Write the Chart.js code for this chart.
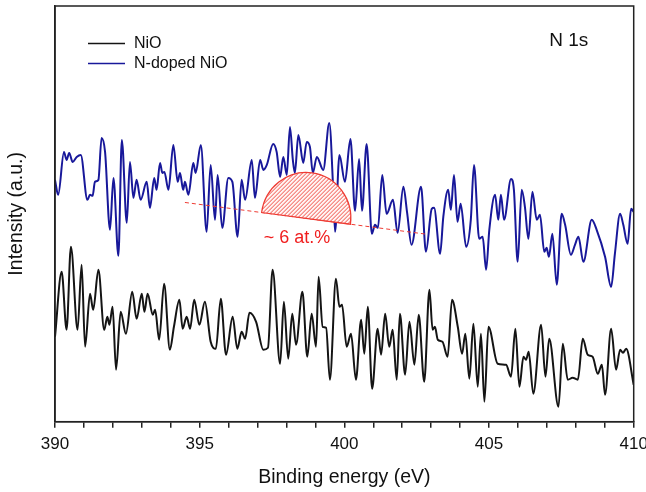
<!DOCTYPE html>
<html>
<head>
<meta charset="utf-8">
<script src="https://cdn.jsdelivr.net/npm/chart.js@4.4.1/dist/chart.umd.min.js"></script>
<style>
html,body{margin:0;padding:0;background:#fff;}
#wrap{width:646px;height:492px;}
</style>
</head>
<body>
<div id="wrap"><canvas id="c" width="646" height="492"></canvas></div>
<script>
// ---- Data (binding energy in eV, intensity in arbitrary units) ----
const xTicks = [390, 395, 400, 405, 410];

const dopedE = [390.00,390.11,390.31,390.40,390.49,390.61,390.75,390.89,391.12,391.21,391.30,391.38,391.50,391.61,391.73,391.90,392.02,392.19,392.31,392.48,392.59,392.71,392.82,392.96,393.17,393.28,393.43,393.51,393.63,393.71,393.78,393.92,394.09,394.24,394.32,394.43,394.49,394.61,394.78,394.86,395.04,395.24,395.38,395.53,395.62,395.78,395.99,396.13,396.31,396.45,396.57,396.80,396.91,397.09,397.20,397.32,397.54,397.66,397.78,397.89,398.01,398.12,398.22,398.29,398.41,398.58,398.70,398.81,398.91,399.05,399.27,399.48,399.62,399.68,399.83,400.02,400.21,400.37,400.51,400.61,400.77,400.95,401.06,401.16,401.31,401.46,401.68,401.84,402.04,402.17,402.32,402.65,402.82,403.02,403.10,403.31,403.42,403.59,403.68,403.79,403.91,404.02,404.21,404.37,404.48,404.66,404.78,404.90,405.01,405.21,405.32,405.41,405.52,405.76,405.86,405.99,406.13,406.24,406.36,406.50,406.65,406.76,406.91,406.99,407.07,407.19,407.34,407.51,407.63,407.83,407.97,408.09,408.26,408.55,408.72,409.01,409.22,409.35,409.53,409.64,409.79,409.91,410.00];
const dopedI = [242,227,270,262,269,260,265,267,222,227,226,240,242,284,270,192,244,166,282,199,260,224,242,222,240,214,244,232,259,249,250,232,277,240,249,232,240,227,259,249,277,190,257,202,247,194,244,240,185,242,222,262,224,262,252,257,278,270,245,265,247,295,262,249,287,259,280,275,249,265,252,299,229,190,267,240,283,211,263,211,278,188,197,194,247,208,222,189,235,209,177,235,170,213,214,168,205,232,212,247,200,218,175,202,257,183,185,152,192,227,202,227,202,243,232,160,232,215,183,230,202,207,170,174,165,188,137,208,197,167,177,185,160,202,192,165,135,168,208,197,178,213,210];

const nioE = [390.00,390.23,390.40,390.55,390.78,390.92,391.04,391.21,391.32,391.50,391.70,391.81,391.88,391.99,392.11,392.27,392.45,392.67,392.82,393.00,393.09,393.20,393.38,393.46,393.60,393.77,393.97,394.11,394.30,394.41,394.55,394.67,394.81,394.99,395.18,395.38,395.56,395.73,395.91,396.14,396.30,396.45,396.57,396.72,396.95,397.20,397.36,397.52,397.78,397.91,398.06,398.20,398.33,398.55,398.72,398.87,399.02,399.11,399.25,399.37,399.50,399.71,399.83,399.92,400.08,400.23,400.40,400.58,400.69,400.81,400.96,401.15,401.27,401.41,401.55,401.67,401.81,401.92,402.10,402.25,402.42,402.57,402.76,402.94,403.05,403.13,403.23,403.39,403.57,403.72,403.92,404.07,404.18,404.32,404.46,404.61,404.72,404.84,404.98,405.30,405.59,405.76,405.91,406.05,406.19,406.28,406.37,406.53,406.80,406.95,407.08,407.40,407.55,407.72,407.89,408.07,408.24,408.41,408.58,408.76,408.90,409.01,409.22,409.39,409.53,409.63,409.74,410.00];
const nioI = [85,150,92,175,92,157,75,128,112,152,92,105,97,115,52,110,88,130,103,128,110,128,107,112,82,138,72,95,122,93,105,93,122,97,120,80,73,123,67,105,73,90,83,109,100,72,74,152,58,120,63,108,77,130,65,108,75,145,95,94,42,143,115,117,75,88,42,102,68,115,33,93,67,108,75,92,42,108,47,100,57,107,40,132,92,95,82,80,65,122,95,68,88,43,98,35,88,20,95,58,57,45,93,35,65,62,70,28,97,45,83,15,78,42,44,42,83,67,65,48,57,27,93,52,72,69,73,37];

const seriesLabels = ['NiO', 'N-doped NiO'];

// Annotation (estimated N-dopant area): baseline and dome, in data units
const baseE = [394.49, 402.82];
const baseI = [219.4, 187.7];
const domeE = [397.14, 400.21];
const domeH = [46];
const annotText = ['~ 6 at.%'];
const annotPos = [398.36, 183.5];
const peakLabel = ['N 1s'];
const peakLabelPos = [407.08, 381.7];

// ---- Chart ----
const FONT = '"Liberation Sans", Arial, sans-serif';
const BLUE = '#18189a';
const BLACK = '#141414';
const RED = '#ee3b33';

const toXY = (E, I) => E.map((e, i) => ({x: e, y: I[i]}));

const deco = {
  id: 'deco',
  afterDatasetsDraw(chart) {
    const {ctx, scales: {x, y}} = chart;
    ctx.save();
    // dashed baseline
    ctx.strokeStyle = RED; ctx.lineWidth = 1; ctx.setLineDash([4, 3]);
    ctx.beginPath();
    ctx.moveTo(x.getPixelForValue(baseE[0]), y.getPixelForValue(baseI[0]));
    ctx.lineTo(x.getPixelForValue(baseE[1]), y.getPixelForValue(baseI[1]));
    ctx.stroke();
    ctx.setLineDash([]);
    // dome
    const baseAt = e => baseI[0] + (baseI[1] - baseI[0]) * (e - baseE[0]) / (baseE[1] - baseE[0]);
    const x1 = x.getPixelForValue(domeE[0]), y1 = y.getPixelForValue(baseAt(domeE[0]));
    const x2 = x.getPixelForValue(domeE[1]), y2 = y.getPixelForValue(baseAt(domeE[1]));
    const cx = (x1 + x2) / 2, cy = (y1 + y2) / 2;
    const rx = Math.hypot(x2 - x1, y2 - y1) / 2, ang = Math.atan2(y2 - y1, x2 - x1);
    const ry = y.getPixelForValue(0) - y.getPixelForValue(domeH[0]);
    const path = () => { ctx.beginPath(); ctx.ellipse(cx, cy, rx, ry, ang, Math.PI, 2 * Math.PI); ctx.closePath(); };
    path();
    ctx.fillStyle = '#fff3f2'; ctx.fill();
    ctx.save();
    path(); ctx.clip();
    ctx.strokeStyle = RED; ctx.lineWidth = 0.9;
    ctx.beginPath();
    const L = ry + 80;
    for (let s = cx - rx - L; s < cx + rx + 10; s += 4) {
      ctx.moveTo(s, cy + 30); ctx.lineTo(s + L, cy + 30 - L);
    }
    ctx.stroke();
    ctx.restore();
    path();
    ctx.strokeStyle = RED; ctx.lineWidth = 1.2; ctx.stroke();
    // annotation text
    ctx.fillStyle = '#f01e1e';
    ctx.font = '18px ' + FONT;
    ctx.textAlign = 'center'; ctx.textBaseline = 'middle';
    ctx.fillText(annotText[0], x.getPixelForValue(annotPos[0]), y.getPixelForValue(annotPos[1]));
    ctx.restore();
  },
  afterDraw(chart) {
    const {ctx, chartArea: ca, scales: {x, y}} = chart;
    ctx.save();
    // frame
    ctx.strokeStyle = '#222'; ctx.lineWidth = 1.5;
    ctx.strokeRect(ca.left, ca.top, ca.right - ca.left, ca.bottom - ca.top);
    // peak label
    ctx.fillStyle = '#111';
    ctx.font = '19px ' + FONT;
    ctx.textAlign = 'left'; ctx.textBaseline = 'middle';
    ctx.fillText(peakLabel[0], x.getPixelForValue(peakLabelPos[0]), y.getPixelForValue(peakLabelPos[1]));
    // legend
    ctx.font = '16px ' + FONT;
    const ds = chart.data.datasets;
    ds.forEach((d, i) => {
      const yy = ca.top + 37.5 + i * 20;
      ctx.strokeStyle = d.borderColor; ctx.lineWidth = 1.6;
      ctx.beginPath(); ctx.moveTo(ca.left + 33, yy); ctx.lineTo(ca.left + 70, yy); ctx.stroke();
      ctx.fillStyle = '#111';
      ctx.fillText(d.label, ca.left + 79, yy);
    });
    // axis titles
    ctx.font = '19.5px ' + FONT;
    ctx.textAlign = 'center';
    ctx.fillText('Binding energy (eV)', (ca.left + ca.right) / 2, 478);
    ctx.translate(17, (ca.top + ca.bottom) / 2);
    ctx.rotate(-Math.PI / 2);
    ctx.fillText('Intensity (a.u.)', 0, 0);
    ctx.restore();
  }
};

new Chart(document.getElementById('c'), {
  type: 'line',
  data: {
    datasets: [
      {label: seriesLabels[0], data: toXY(nioE, nioI), borderColor: BLACK, borderWidth: 2, pointRadius: 0, cubicInterpolationMode: 'monotone', fill: false},
      {label: seriesLabels[1], data: toXY(dopedE, dopedI), borderColor: BLUE, borderWidth: 2, pointRadius: 0, cubicInterpolationMode: 'monotone', fill: false}
    ]
  },
  options: {
    responsive: false,
    animation: false,
    devicePixelRatio: 1,
    layout: {padding: {left: 0, top: 6, right: 12.3, bottom: 0}},
    plugins: {legend: {display: false}, tooltip: {enabled: false}},
    scales: {
      x: {
        type: 'linear', min: 390, max: 410,
        afterFit: s => { s.height = 70.3; s.paddingLeft = 0; s.paddingRight = 0; },
        ticks: {
          stepSize: 1, autoSkip: false, maxRotation: 0, padding: 6,
          color: '#111', font: {family: FONT, size: 17},
          callback: v => xTicks.includes(v) ? String(v) : ''
        },
        grid: {drawOnChartArea: false, drawTicks: true, tickLength: 6, color: '#222', lineWidth: 1.5},
        border: {display: true, color: '#222', width: 1.5}
      },
      y: {
        type: 'linear', min: 0, max: 416,
        afterFit: s => { s.width = 55; s.paddingTop = 0; s.paddingBottom = 0; },
        ticks: {display: false},
        grid: {display: false},
        border: {display: true, color: '#222', width: 1.5}
      }
    }
  },
  plugins: [deco]
});
</script>
</body>
</html>
